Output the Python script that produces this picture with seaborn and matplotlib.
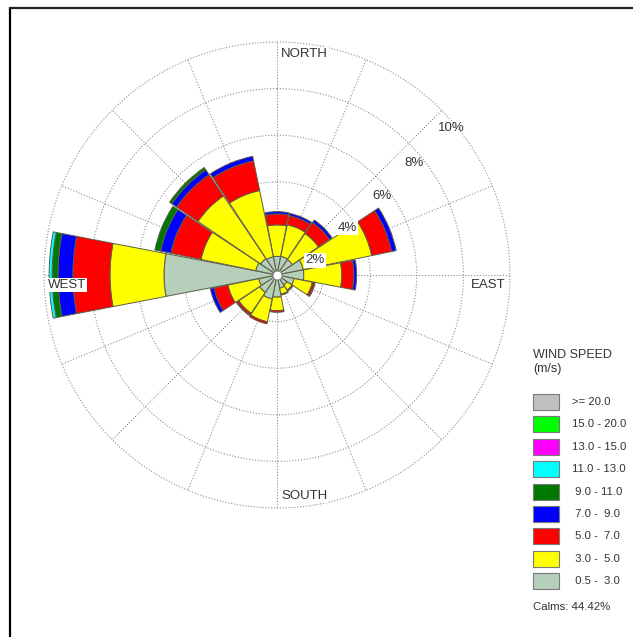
import numpy as np
import matplotlib
matplotlib.use("Agg")
import matplotlib.pyplot as plt
import seaborn as sns
from matplotlib.patches import Rectangle
from matplotlib.lines import Line2D

# ---------------- data ----------------
directions = ["N", "NNE", "NE", "ENE", "E", "ESE", "SE", "SSE",
              "S", "SSW", "SW", "WSW", "W", "WNW", "NW", "NNW"]
direction_deg = [0, 22.5, 45, 67.5, 90, 112.5, 135, 157.5,
                 180, 202.5, 225, 247.5, 270, 292.5, 315, 337.5]

# frequency (%) of each speed class per direction (inner class first)
freq_0p5_3 = [0.80, 0.82, 0.80, 1.15, 1.15, 0.75, 0.52, 0.58, 0.95, 1.05, 0.90, 0.80, 4.85, 0.93, 0.85, 0.80]
freq_3_5 = [1.35, 1.38, 1.35, 3.00, 1.63, 0.80, 0.26, 0.26, 0.58, 1.00, 1.08, 1.35, 2.32, 2.40, 3.25, 2.90]
freq_5_7 = [0.47, 0.40, 0.57, 0.87, 0.52, 0.09, 0.05, 0.04, 0.07, 0.09, 0.10, 0.61, 1.59, 1.32, 1.10, 1.30]
freq_7_9 = [0.10, 0.10, 0.13, 0.20, 0.12, 0.03, 0.00, 0.00, 0.00, 0.00, 0.02, 0.16, 0.64, 0.45, 0.25, 0.20]
freq_9_11 = [0, 0, 0, 0, 0, 0, 0, 0, 0, 0, 0, 0, 0.25, 0.25, 0.12, 0]
freq_11_13 = [0, 0, 0, 0, 0, 0, 0, 0, 0, 0, 0, 0, 0.13, 0, 0, 0]
freq_13_15 = [0] * 16
freq_15_20 = [0] * 16
freq_ge20 = [0] * 16

class_freqs = [freq_0p5_3, freq_3_5, freq_5_7, freq_7_9, freq_9_11,
               freq_11_13, freq_13_15, freq_15_20, freq_ge20]
class_labels = [" 0.5 -  3.0", " 3.0 -  5.0", " 5.0 -  7.0", " 7.0 -  9.0",
                " 9.0 - 11.0", "11.0 - 13.0", "13.0 - 15.0", "15.0 - 20.0", ">= 20.0"]
class_colors = ["#b5cfbb", "#ffff00", "#ff0000", "#0000ff", "#007800",
                "#00ffff", "#ff00ff", "#00ff00", "#c0c0c0"]

ring_values = [2, 4, 6, 8, 10]
ring_labels = ["2%", "4%", "6%", "8%", "10%"]
calms_text = "Calms: 44.42%"
legend_title = "WIND SPEED\n(m/s)"

# ---------------- style ----------------
sns.set_style("white")
plt.rcParams["font.family"] = ["Liberation Sans", "DejaVu Sans"]

W, H = 633, 637
fig = plt.figure(figsize=(W / 100, H / 100), dpi=100)
fig.patch.set_facecolor("white")

cx, cy, R = 277, 275, 233
ax = fig.add_axes([(cx - R) / W, (H - cy - R) / H, 2 * R / W, 2 * R / H],
                  projection="polar")
ax.set_theta_zero_location("N")
ax.set_theta_direction(-1)
ax.set_ylim(0, 10)
ax.set_axisbelow(True)

theta = np.deg2rad(direction_deg)
width = np.deg2rad(22.5) * 0.97
bottom = np.zeros(len(directions))
for vals, col in zip(class_freqs, class_colors):
    vals = np.asarray(vals, dtype=float)
    m = vals > 0
    if m.any():
        ax.bar(theta[m], vals[m], width=width, bottom=bottom[m], color=col,
               edgecolor="#5c5c48", linewidth=0.7, zorder=3)
    bottom += vals

grid_style = dict(color="#8f8f8f", linestyle=(0, (1, 1.6)), linewidth=0.8)
ax.set_thetagrids(direction_deg, labels=[""] * 16)
ax.set_rgrids(ring_values[:-1], labels=[""] * 4)
ax.grid(True, **grid_style)
ax.spines["polar"].set_visible(False)
ax.tick_params(length=0)
# outer ring (10 %) drawn as a dotted circle
tt = np.linspace(0, 2 * np.pi, 721)
ax.plot(tt, np.full_like(tt, ring_values[-1]), clip_on=False, zorder=1, **grid_style)

# centre disc
ax.scatter([0], [0], s=40, c="white", edgecolors="#8a8a8a", linewidths=0.6, zorder=6)

# ring labels
ring_pos = [(69, 1.75), (56, 3.63), (53, 5.62), (50.7, 7.59), (50, 9.79)]
for (ang, rr), lab, v in zip(ring_pos, ring_labels, ring_values):
    bb = dict(boxstyle="square,pad=0.1", fc="white", ec="none") if v <= 4 else None
    ax.text(np.deg2rad(ang), rr, lab, ha="center", va="center", fontsize=9.5,
            color="#333333", zorder=7, bbox=bb)

# compass labels
box = dict(boxstyle="square,pad=0.08", fc="white", ec="none")
ax.annotate("NORTH", xy=(0, 9.49), xytext=(4, 0), textcoords="offset pixels",
            ha="left", va="center", fontsize=9.5, color="#333333", bbox=box, zorder=7)
ax.annotate("SOUTH", xy=(np.pi, 9.49), xytext=(4, 0), textcoords="offset pixels",
            ha="left", va="center", fontsize=9.5, color="#333333", bbox=box, zorder=7)
ax.annotate("WEST", xy=(1.5 * np.pi, 9.83), xytext=(0, -4), textcoords="offset pixels",
            ha="left", va="top", fontsize=9.5, color="#333333", bbox=box, zorder=7)
ax.annotate("EAST", xy=(0.5 * np.pi, 9.79), xytext=(0, -4), textcoords="offset pixels",
            ha="right", va="top", fontsize=9.5, color="#333333", bbox=box, zorder=7)

# ---------------- legend (figure pixel coordinates) ----------------
def fx(x):
    return x / W

def fy(y):
    return 1 - y / H

fig.text(fx(533), fy(349), legend_title, ha="left", va="top", fontsize=9,
         color="#333333", linespacing=1.25)
row0, step, ph, pw = 394, 22.4, 16, 26
for i, (lab, col) in enumerate(zip(class_labels[::-1], class_colors[::-1])):
    top = row0 + i * step
    fig.add_artist(Rectangle((fx(533), fy(top + ph)), pw / W, ph / H,
                             transform=fig.transFigure, facecolor=col,
                             edgecolor="#7a7a7a", linewidth=0.8))
    fig.text(fx(572), fy(top + ph / 2), lab, ha="left", va="center",
             fontsize=8.2, color="#333333")
fig.text(fx(533), fy(607), calms_text, ha="left", va="center", fontsize=8.2,
         color="#333333")

# frame lines (left and top border of the original figure)
fig.add_artist(Line2D([fx(10), fx(10)], [fy(8), fy(637)], color="black",
                      linewidth=1.6, transform=fig.transFigure))
fig.add_artist(Line2D([fx(10), fx(633)], [fy(8), fy(8)], color="#222222",
                      linewidth=1.6, transform=fig.transFigure))

fig.savefig("out.png", dpi=100, facecolor="white")
